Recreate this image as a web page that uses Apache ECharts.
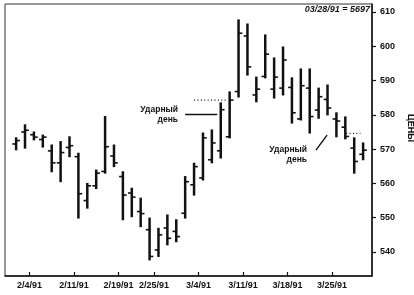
<!DOCTYPE html>
<html><head><meta charset="utf-8">
<script src="https://cdn.jsdelivr.net/npm/echarts@6/dist/echarts.min.js"></script>
<style>html,body{margin:0;padding:0;background:#fff}#c{width:414px;height:295px}</style>
</head><body><div id="c"></div>
<script>
// ---- data ----
const dates = ['1/31/91','2/1/91','2/4/91','2/5/91','2/6/91','2/7/91','2/8/91',
  '2/11/91','2/12/91','2/13/91','2/14/91','2/15/91',
  '2/19/91','2/20/91','2/21/91','2/22/91',
  '2/25/91','2/26/91','2/27/91','2/28/91','3/1/91',
  '3/4/91','3/5/91','3/6/91','3/7/91','3/8/91',
  '3/11/91','3/12/91','3/13/91','3/14/91','3/15/91',
  '3/18/91','3/19/91','3/20/91','3/21/91','3/22/91',
  '3/25/91','3/26/91','3/27/91','3/28/91'];
const opens  = [571.5,575.0,574.2,572.8,569.5,566.0,570.5,567.8,555.0,559.3,563.5,568.0,562.0,557.2,551.8,546.5,540.6,547.0,546.0,551.3,559.6,561.6,566.9,569.5,573.6,586.8,603.0,585.8,591.2,587.5,587.8,588.0,578.8,587.8,581.4,584.5,578.8,576.4,570.3,568.5];
const highs  = [573.3,577.1,575.0,574.1,571.2,572.2,573.6,568.8,560.0,563.9,579.5,571.2,563.4,558.6,555.7,549.9,546.9,550.8,549.4,562.0,565.9,574.7,575.6,583.5,586.7,607.7,606.5,591.0,603.3,596.6,599.8,590.8,593.4,593.4,587.8,588.7,580.6,579.4,573.3,571.8];
const lows   = [569.8,570.3,572.7,570.6,563.4,560.5,567.8,549.9,552.8,558.5,563.0,564.9,549.4,550.3,547.4,537.7,538.7,542.1,543.0,549.9,556.6,561.0,566.0,567.4,573.3,585.2,591.6,583.8,590.8,584.9,585.8,577.6,578.5,574.7,579.0,580.0,573.6,573.0,563.0,566.9];
const closes = [572.5,575.5,573.5,573.5,566.0,569.0,571.0,557.0,559.3,563.0,570.7,566.0,556.6,556.0,551.2,538.7,545.0,544.0,544.5,560.5,564.9,573.3,571.8,581.5,584.3,603.8,594.0,587.5,597.7,591.0,596.0,580.6,588.5,579.5,585.3,582.0,578.2,573.7,566.4,569.7];
const tickDates = ['2/4/91','2/11/91','2/19/91','2/25/91','3/4/91','3/11/91','3/18/91','3/25/91'];
const priceTicks = [540,550,560,570,580,590,600,610];
const headerText = '03/28/91 = 5697';
const axisName = 'ЦЕНЫ';
const noteText = 'Ударный\nдень';

// ---- build ----
const tickPos = tickDates.map(d => dates.indexOf(d) - 0.5);
const labelAt = {};
tickPos.forEach((p, i) => { labelAt[p.toFixed(2)] = tickDates[i]; });
const ohlc = dates.map((d, i) => [i, opens[i], highs[i], lows[i], closes[i]]);

// annotations in data units [dayIndex, price]
const notes = [
  {kind: 'text', at: [18.2, 580.0]},
  {kind: 'text', at: [32.7, 568.4]},
  {kind: 'solid', from: [19.0, 580.1], to: [22.6, 580.1]},
  {kind: 'dot',   from: [20.0, 584.3], to: [23.7, 584.3]},
  {kind: 'solid', from: [33.7, 569.7], to: [34.95, 574.1]},
  {kind: 'dot',   from: [37.1, 574.6], to: [38.7, 574.6]}
];

const INK = '#111';
const chart = echarts.init(document.getElementById('c'), null, {renderer: 'canvas'});
chart.setOption({
  animation: false,
  backgroundColor: '#fff',
  title: {
    text: headerText, right: 44, top: 5, padding: 0,
    textStyle: {fontSize: 9, fontWeight: 'bold', fontStyle: 'italic', color: INK, fontFamily: 'Liberation Sans'}
  },
  grid: {left: 5, right: 42, top: 4, bottom: 19, containLabel: false, outerBoundsMode: 'none',
    show: true, borderColor: '#333', borderWidth: 1, backgroundColor: 'transparent'},
  xAxis: {
    type: 'value', min: -1.25, max: 40,
    splitLine: {show: false},
    axisLine: {show: true, onZero: false, lineStyle: {color: INK, width: 1.5}},
    axisTick: {show: true, inside: true, length: 4, customValues: tickPos, lineStyle: {color: INK, width: 1.2}},
    axisLabel: {show: true, customValues: tickPos, margin: 5, fontSize: 9, fontWeight: 'bold', color: INK,
      fontFamily: 'Liberation Sans', formatter: v => labelAt[Number(v).toFixed(2)] || ''}
  },
  yAxis: {
    type: 'value', position: 'right', min: 533, max: 612.33,
    splitLine: {show: false},
    axisLine: {show: true, onZero: false, lineStyle: {color: INK, width: 1.5}},
    axisTick: {show: true, length: 4, customValues: priceTicks, lineStyle: {color: INK, width: 1.2}},
    axisLabel: {show: true, customValues: priceTicks, margin: 8, fontSize: 9, fontWeight: 'bold', color: INK, fontFamily: 'Liberation Sans'},
    name: axisName, nameLocation: 'middle', nameGap: 30, nameRotate: -90,
    nameTextStyle: {fontSize: 9, fontWeight: 'bold', color: INK, fontFamily: 'Liberation Sans', padding: [0, 24, 0, 0]}
  },
  series: [
    {
      type: 'custom', data: ohlc, encode: {x: 0, y: [1, 2, 3, 4]},
      renderItem: function (params, api) {
        const x = api.value(0);
        const pH = api.coord([x, api.value(2)]);
        const pL = api.coord([x, api.value(3)]);
        const pO = api.coord([x, api.value(1)]);
        const pC = api.coord([x, api.value(4)]);
        return {type: 'group', children: [
          {type: 'line', shape: {x1: pH[0], y1: pH[1] - 0.5, x2: pL[0], y2: pL[1] + 0.5}, style: {stroke: INK, lineWidth: 2.5}},
          {type: 'line', shape: {x1: pO[0] - 3.8, y1: pO[1], x2: pO[0], y2: pO[1]}, style: {stroke: INK, lineWidth: 1.6}},
          {type: 'line', shape: {x1: pC[0], y1: pC[1], x2: pC[0] + 3.8, y2: pC[1]}, style: {stroke: INK, lineWidth: 1.6}}
        ]};
      }
    },
    {
      type: 'custom', data: notes.map((n, i) => [i]),
      renderItem: function (params, api) {
        const n = notes[params.dataIndex];
        if (n.kind === 'text') {
          const p = api.coord(n.at);
          return {type: 'text', x: p[0], y: p[1], style: {
            text: noteText, align: 'right', verticalAlign: 'middle', lineHeight: 10,
            fontSize: 8.5, fontWeight: 'bold', fill: INK, fontFamily: 'Liberation Sans'}};
        }
        const a = api.coord(n.from), b = api.coord(n.to);
        return {type: 'line', shape: {x1: a[0], y1: a[1], x2: b[0], y2: b[1]},
          style: n.kind === 'dot'
            ? {stroke: INK, lineWidth: 1.2, lineDash: [1, 2.4]}
            : {stroke: INK, lineWidth: 1.4}};
      }
    }
  ]
});
</script></body></html>
